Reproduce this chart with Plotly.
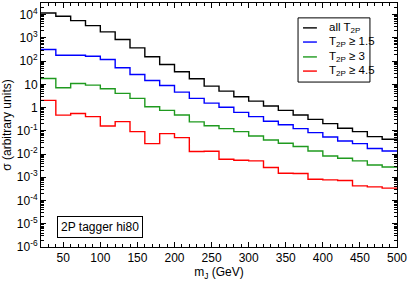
import plotly.graph_objects as go

# ---- data ----
bin_edges = list(range(20, 520, 20))  # 20..500 GeV, 24 bins of 20 GeV

all_t2p = [11800, 8460, 5520, 3370, 1810, 845, 372, 153, 71.5, 34.7, 17.4, 8.37,
           5.11, 2.94, 1.90, 1.16, 0.758, 0.476, 0.312, 0.204, 0.128, 0.0924, 0.0564, 0.0432]
t2p_ge_15 = [315, 179, 179, 162, 117, 51.5, 26.6, 14.7, 8.97, 4.63, 2.48, 1.56,
             1.04, 0.622, 0.407, 0.256, 0.181, 0.124, 0.0837, 0.0542, 0.0365, 0.0282, 0.0172, 0.0136]
t2p_ge_3 = [17.9, 7.14, 10.9, 9.24, 6.48, 4.07, 2.48, 1.09, 0.758, 0.476, 0.243, 0.164,
            0.124, 0.0924, 0.0598, 0.0403, 0.0291, 0.0210, 0.0136, 0.00828, 0.00661, 0.00506, 0.00340, 0.00279]
t2p_ge_45 = [2.04, 0.472, 0.552, 0.407, 0.161, 0.248, 0.0924, 0.0282, 0.0759, 0.0511, 0.0128, 0.0132,
             0.00598, 0.00542, 0.00506, 0.00264, 0.00150, 0.00146, 0.000828, 0.000773, 0.000729,
             0.000428, 0.000387, 0.000340]

series_names = ["all T<sub>2P</sub>", "T<sub>2P</sub> \u2265 1.5", "T<sub>2P</sub> \u2265 3", "T<sub>2P</sub> \u2265 4.5"]
series_vals = [all_t2p, t2p_ge_15, t2p_ge_3, t2p_ge_45]
series_colors = ["#000000", "#0000ff", "#1f9a1f", "#ff0000"]

y_tick_vals = [1e-6, 1e-5, 1e-4, 1e-3, 1e-2, 1e-1, 1, 10, 1e2, 1e3, 1e4]
y_tick_text = ["10<sup>-6</sup>", "10<sup>-5</sup>", "10<sup>-4</sup>", "10<sup>-3</sup>",
               "10<sup>-2</sup>", "10<sup>-1</sup>", "1", "10", "10<sup>2</sup>",
               "10<sup>3</sup>", "10<sup>4</sup>"]
x_tick_vals = [50, 100, 150, 200, 250, 300, 350, 400, 450, 500]

FONT = "Liberation Sans, Arial, sans-serif"

fig = go.Figure()
for name, vals, col in zip(series_names, series_vals, series_colors):
    xs = bin_edges[:-1] + [bin_edges[-1]]
    ys = list(vals) + [vals[-1]]
    fig.add_trace(go.Scatter(x=xs, y=ys, mode="lines", line=dict(color=col, width=1.4, shape="hv"),
                             name=name, showlegend=False))

# minor tick positions for log axis
minor_y = [k * 10.0 ** e for e in range(-6, 5) for k in range(2, 10)]

fig.update_layout(
    width=409, height=284,
    margin=dict(l=41, r=12, t=3, b=37),
    paper_bgcolor="white", plot_bgcolor="white",
    font=dict(family=FONT, size=12, color="black"),
    xaxis=dict(range=[20, 500], showline=True, linecolor="black", linewidth=1, mirror="ticks",
               ticks="inside", ticklen=5, tickcolor="black", tickvals=x_tick_vals,
               showgrid=False, zeroline=False,
               minor=dict(dtick=10, tick0=0, ticks="inside", ticklen=3, tickcolor="black", showgrid=False),
               title=dict(text="m<sub>J</sub> (GeV)", standoff=2, font=dict(size=12))),
    yaxis=dict(type="log", range=[-6, 4.5], showline=True, linecolor="black", linewidth=1, mirror="ticks",
               ticks="inside", ticklen=5, tickcolor="black", tickvals=y_tick_vals, ticktext=y_tick_text,
               showgrid=False, zeroline=False,
               minor=dict(tickmode="array", tickvals=minor_y, ticks="inside", ticklen=3,
                          tickcolor="black", showgrid=False),
               title=dict(text="\u03c3 (arbitrary units)", standoff=4, font=dict(size=12))),
)

# manual legend
lx0, lx1 = 0.722, 0.924
ly0, ly1 = 0.676, 0.939
fig.add_shape(type="rect", xref="paper", yref="paper", x0=lx0, x1=lx1, y0=ly0, y1=ly1,
              line=dict(color="black", width=1), fillcolor="white")
entry_y = [0.898, 0.840, 0.779, 0.721]
for name, col, ey in zip(series_names, series_colors, entry_y):
    fig.add_shape(type="line", xref="paper", yref="paper", x0=0.736, x1=0.775, y0=ey, y1=ey,
                  line=dict(color=col, width=1.4))
    fig.add_annotation(xref="paper", yref="paper", x=0.803, y=ey, text=name, showarrow=False,
                       xanchor="left", yanchor="middle", font=dict(size=11.5))

fig.add_annotation(xref="paper", yref="paper", x=0.166, y=0.080, text="2P tagger hi80", showarrow=False,
                   xanchor="center", yanchor="middle", font=dict(size=12),
                   bordercolor="black", borderwidth=1, borderpad=3, bgcolor="white")

fig.write_html("out.html", config={"displayModeBar": False},
               post_script="document.body.style.margin='0px';")
